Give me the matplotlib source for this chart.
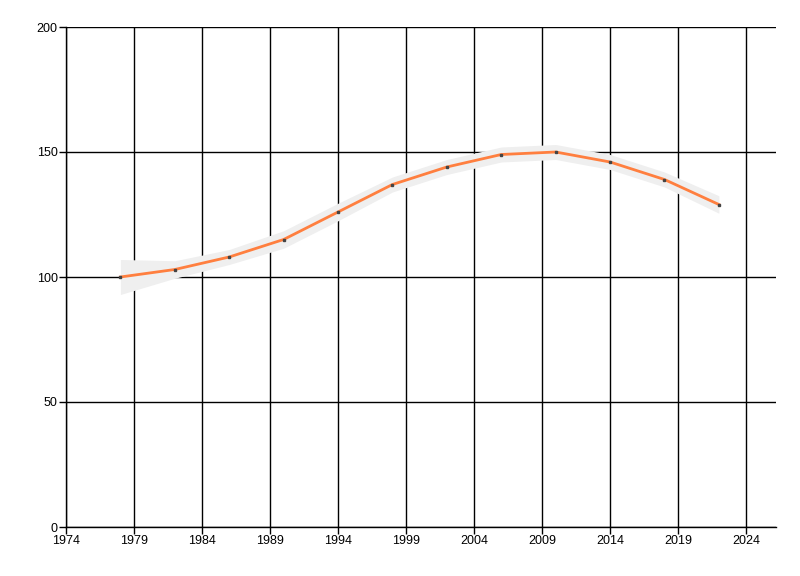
import numpy as np
import matplotlib
matplotlib.use("Agg")
import matplotlib.pyplot as plt

years = [1978, 1982, 1986, 1990, 1994, 1998, 2002, 2006, 2010, 2014, 2018, 2022]
values = [100, 103, 108, 115, 126, 137, 144, 149, 150, 146, 139, 129]
band_low = [93, 99.5, 105, 111.5, 122.5, 134, 141, 146, 147, 143, 136, 125.5]
band_high = [107, 106.5, 111, 118.5, 129.5, 140, 147, 152, 153, 149, 142, 132.5]

x_ticks = list(range(1974, 2025, 5))
y_ticks = [0, 50, 100, 150, 200]

plt.rcParams['font.family'] = ['Liberation Sans', 'DejaVu Sans']

fig = plt.figure(figsize=(8, 5.76), dpi=100)
ax = fig.add_axes([66/800, 1 - 527/576, 710/800, 500/576])

# grey band behind the line, covers the grid
ax.fill_between(years, band_low, band_high, color='#efefef', lw=0, zorder=2)
ax.plot(years, values, color='#ff7f3f', lw=2, zorder=3)
ax.plot(years, values, ls='none', marker='s', ms=1.6, color='#444444', zorder=4)

ax.set_xlim(1974, 2026.2)
ax.set_ylim(0, 200)
ax.set_xticks(x_ticks)
ax.set_yticks(y_ticks)
ax.grid(True, color='black', lw=1, zorder=1)
ax.set_axisbelow(True)

for s in ['top', 'right']:
    ax.spines[s].set_visible(False)
for s in ['left', 'bottom']:
    ax.spines[s].set_linewidth(1)
    ax.spines[s].set_color('black')

ax.tick_params(direction='out', length=5, width=1, labelsize=9, pad=1, colors='black')

fig.savefig('out.png', dpi=100, facecolor='white')
